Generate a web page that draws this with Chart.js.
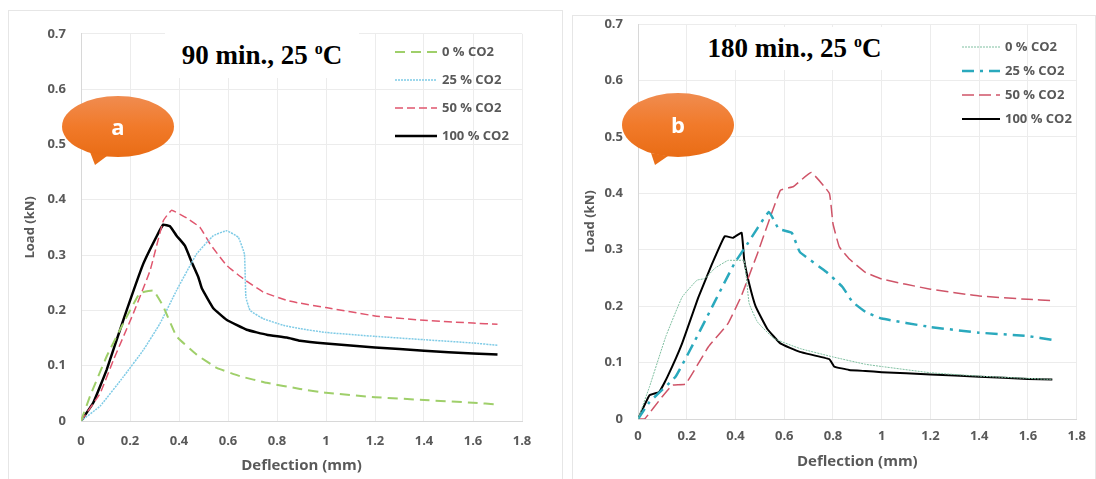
<!DOCTYPE html>
<html>
<head>
<meta charset="utf-8">
<script src="https://cdn.jsdelivr.net/npm/chart.js@4"></script>
<style>
  html, body { margin: 0; padding: 0; background: #fff; width: 1096px; height: 479px; overflow: hidden; }
  .panel { position: absolute; box-sizing: border-box; background: #fff; border: 1px solid #e6e6e6; border-bottom: none; }
  .panel canvas { position: absolute; left: 0; filter: blur(0.4px); }
  .heading { position: absolute; background: #fff; color: #000; font: bold 27px "Liberation Serif", serif; white-space: nowrap; text-align: center; }
  .heading sup { font-size: 16px; line-height: 0; }
  .bubble { position: absolute; }
</style>
</head>
<body>
<div class="panel" style="left:8px;top:10px;width:555px;height:469px"><canvas id="chartA" style="top:0"></canvas></div>
<div class="panel" style="left:572px;top:15px;width:524px;height:464px"><canvas id="chartB" style="top:-16px"></canvas></div>

<div class="heading" style="left:165px;top:33px;width:194px;height:45px;line-height:45px">90 min., 25 <sup>o</sup>C</div>
<div class="heading" style="left:692px;top:27px;width:205px;height:43px;line-height:43px">180 min., 25 <sup>o</sup>C</div>

<svg class="bubble" style="left:0;top:0" width="1096" height="479">
  <defs>
    <linearGradient id="orange" x1="0" y1="0" x2="0" y2="1">
      <stop offset="0" stop-color="#f08c50"/>
      <stop offset="0.5" stop-color="#f17a2a"/>
      <stop offset="1" stop-color="#e96c15"/>
    </linearGradient>
  </defs>
  <ellipse cx="118" cy="126.5" rx="56" ry="30.5" fill="url(#orange)"/>
  <polygon points="90,152 107,156 95,165" fill="#ea6f18"/>
  <text x="118" y="135" fill="#fff" font-family="Open Sans" font-weight="700" font-size="22" text-anchor="middle">a</text>
  <ellipse cx="678" cy="125" rx="56" ry="32" fill="url(#orange)"/>
  <polygon points="651,153 668,156 655,165" fill="#ea6f18"/>
  <text x="678" y="133" fill="#fff" font-family="Open Sans" font-weight="700" font-size="22" text-anchor="middle">b</text>
</svg>

<script>
const seriesLabels = ['0 % CO2', '25 % CO2', '50 % CO2', '100 % CO2'];
const xTicksMax = 1.8;
const yTicksMax = 0.7;

// panel a, 90 min
const a0x = [0, .037, .105, .173, .24, .295, .336, .39, .472, .554, .649, .758, .894, 1, 1.2, 1.4, 1.6, 1.7];
const a0y = [0, .045, .117, .177, .231, .236, .207, .153, .12, .096, .081, .069, .058, .051, .043, .038, .033, .03];
const a25x = [0, .078, .173, .254, .322, .39, .472, .54, .595, .642, .667, .673, .69, .744, .826, .894, 1, 1.2, 1.4, 1.6, 1.7];
const a25y = [0, .027, .08, .128, .176, .236, .302, .335, .344, .332, .302, .224, .2, .185, .173, .167, .16, .153, .147, .141, .137];
const a50x = [0, .078, .132, .214, .282, .336, .37, .431, .486, .527, .595, .663, .744, .84, .894, 1, 1.2, 1.4, 1.6, 1.7];
const a50y = [0, .05, .11, .195, .272, .362, .381, .367, .35, .32, .281, .257, .233, .218, .213, .205, .19, .182, .177, .175];
const a100x = [0, .05, .105, .173, .254, .31, .336, .363, .39, .424, .452, .479, .493, .54, .594, .676, .758, .84, .894, 1, 1.2, 1.4, 1.6, 1.7];
const a100y = [0, .033, .093, .183, .284, .335, .355, .352, .335, .317, .287, .26, .24, .204, .183, .165, .156, .151, .145, .14, .133, .127, .122, .12];

// panel b, 180 min
const b0x = [0, .047, .114, .181, .242, .275, .315, .369, .41, .436, .456, .49, .557, .664, .8, .933, 1, 1.2, 1.4, 1.6, 1.7];
const b0y = [0, .057, .146, .216, .246, .249, .267, .281, .281, .281, .205, .172, .143, .125, .11, .097, .093, .082, .076, .072, .07];
const b25x = [0, .047, .154, .235, .315, .396, .45, .537, .577, .631, .664, .772, .839, .879, .933, 1, 1.2, 1.4, 1.6, 1.7];
const b25y = [0, .03, .075, .14, .208, .276, .311, .367, .337, .33, .296, .261, .234, .208, .19, .178, .163, .153, .147, .14];
const b50x = [0, .027, .1, .141, .195, .289, .369, .423, .49, .584, .638, .71, .785, .8, .826, .866, .933, 1, 1.2, 1.4, 1.6, 1.7];
const b50y = [0, 0, .04, .06, .062, .128, .169, .217, .293, .405, .412, .437, .4, .346, .305, .284, .26, .248, .23, .218, .212, .21];
const b100x = [0, .047, .087, .121, .181, .248, .302, .356, .389, .425, .436, .456, .483, .53, .584, .664, .785, .805, .866, .933, 1, 1.2, 1.4, 1.6, 1.7];
const b100y = [0, .042, .048, .075, .134, .216, .273, .324, .321, .33, .281, .24, .199, .16, .134, .119, .106, .093, .087, .085, .083, .079, .075, .071, .07];

const tickFont = { family: 'Open Sans', weight: 'bold', size: 13 };
const textGrey = '#595959';

function zip(xs, ys) {
    return xs.map((x, i) => ({ x: x, y: ys[i] }));
}

// 1 rather than 1.0, like the axis in the picture
function plainTick(value) {
    return String(+value.toFixed(1));
}

// draws the line samples and labels at the spot they have inside the plot
const insideLegend = {
    id: 'insideLegend',
    afterDraw(chart, args, opts) {
        const ctx = chart.ctx;
        ctx.save();
        chart.data.datasets.forEach((ds, i) => {
            const y = opts.top + i * opts.step;
            ctx.beginPath();
            ctx.strokeStyle = ds.borderColor;
            ctx.lineWidth = ds.borderWidth;
            ctx.setLineDash(ds.borderDash || []);
            ctx.moveTo(opts.left, y);
            ctx.lineTo(opts.left + opts.lineLength, y);
            ctx.stroke();
            ctx.setLineDash([]);
            ctx.fillStyle = textGrey;
            ctx.font = 'bold 13px "Open Sans"';
            ctx.textBaseline = 'middle';
            ctx.fillText(ds.label, opts.left + opts.lineLength + 5, y);
        });
        ctx.restore();
    }
};

function makeChart(id, size, box, series, styles, legend) {
    const canvas = document.getElementById(id);
    canvas.width = size.w;
    canvas.height = size.h;
    canvas.style.width = size.w + 'px';
    canvas.style.height = size.h + 'px';
    return new Chart(canvas, {
        type: 'scatter',
        plugins: [insideLegend],
        data: {
            datasets: series.map((s, i) => ({
                label: seriesLabels[i],
                data: zip(s[0], s[1]),
                showLine: true,
                pointRadius: 0,
                tension: 0.1,
                borderColor: styles[i].color,
                borderWidth: styles[i].width,
                borderDash: styles[i].dash
            }))
        },
        options: {
            responsive: false,
            animation: false,
            layout: { padding: { left: box.pad, top: box.top, right: size.w - box.right, bottom: 0 } },
            plugins: { legend: { display: false }, tooltip: { enabled: false }, insideLegend: legend },
            scales: {
                x: {
                    type: 'linear',
                    min: 0,
                    max: xTicksMax,
                    afterFit(scale) { scale.height = size.h - box.bottom; },
                    grid: { color: '#ececec', drawTicks: false },
                    border: { color: '#d8d8d8' },
                    ticks: { stepSize: 0.2, color: textGrey, font: tickFont, padding: box.tickPad, maxRotation: 0, callback: plainTick },
                    title: { display: true, text: 'Deflection (mm)', color: textGrey, font: { family: 'Open Sans', weight: 'bold', size: 15 }, padding: { top: 0, bottom: 1 } }
                },
                y: {
                    min: 0,
                    max: yTicksMax,
                    afterFit(scale) { scale.width = box.left - box.pad; },
                    grid: { color: '#ececec', drawTicks: false },
                    border: { color: '#d8d8d8' },
                    ticks: { stepSize: 0.1, color: textGrey, font: tickFont, padding: 15, callback: plainTick },
                    title: { display: true, text: 'Load (kN)', color: textGrey, font: { family: 'Open Sans', weight: 'bold', size: 13 }, padding: 0 }
                }
            }
        }
    });
}

makeChart('chartA', { w: 553, h: 465 }, { left: 72, top: 22, right: 513, bottom: 410, pad: 13, tickPad: 12 },
    [[a0x, a0y], [a25x, a25y], [a50x, a50y], [a100x, a100y]],
    [
        { color: '#9fcf6a', width: 2, dash: [10, 6] },
        { color: '#7fcbe6', width: 1.5, dash: [2, 1] },
        { color: '#e0566e', width: 1.5, dash: [8, 4] },
        { color: '#000000', width: 2.5, dash: [] }
    ],
    { left: 386, top: 41, step: 28, lineLength: 42 });

makeChart('chartB', { w: 522, h: 472 }, { left: 65, top: 24, right: 514, bottom: 419, pad: 9, tickPad: 9 },
    [[b0x, b0y], [b25x, b25y], [b50x, b50y], [b100x, b100y]],
    [
        { color: '#7fbfa0', width: 1, dash: [2, 1] },
        { color: '#2aa9bd', width: 2.5, dash: [12, 6, 3, 6] },
        { color: '#cf5468', width: 1.5, dash: [12, 5] },
        { color: '#000000', width: 2, dash: [] }
    ],
    { left: 389, top: 47, step: 24, lineLength: 38 });
</script>
</body>
</html>
